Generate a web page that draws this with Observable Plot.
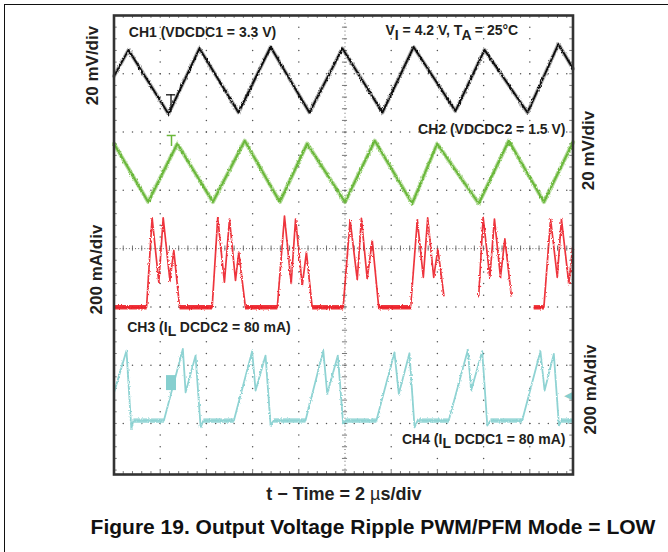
<!DOCTYPE html>
<html><head><meta charset="utf-8">
<script src="https://cdn.jsdelivr.net/npm/d3@7"></script>
<script src="https://cdn.jsdelivr.net/npm/@observablehq/plot@0.6"></script>
<style>
html,body{margin:0;padding:0;background:#fff;}
#wrap{position:relative;width:668px;height:552px;overflow:hidden;}
#edge{position:absolute;left:4px;top:4px;width:700px;height:600px;border-top:1.5px solid #111;border-left:1.5px solid #111;pointer-events:none;}
svg{display:block}
</style></head><body><div id="wrap"><div id="edge"></div></div>
<script>
// ---- Data read from the oscilloscope capture (time in µs, 2 µs/div) ----
// CH1: VDCDC1 ripple, mV (20 mV/div)
const ch1Time = [0, 0.63, 2.36, 3.70, 5.39, 6.78, 8.46, 9.89, 11.62, 12.97, 14.78, 16.04, 17.90, 19.24, 19.87];
const ch1mV   = [2, 11, -11, 11.5, -10.5, 12, -10.5, 11.5, -10.5, 12, -10, 11, -10.5, 13, 4.5];
// CH2: VDCDC2 ripple, mV (20 mV/div)
const ch2Time = [0, 1.48, 2.74, 4.28, 5.66, 7.18, 8.36, 10.00, 11.29, 12.91, 13.99, 15.79, 17.09, 18.61, 19.87];
const ch2mV   = [10, -10, 10, -10, 11, -10, 10, -10, 11, -10.5, 10, -10.5, 11, -10, 10.5];
// CH3: inductor current DCDC2, mA (200 mA/div); null = no trace
const ch3Time = [0, 1.41, 1.65, 1.94, 2.13, 2.42, 2.59, 2.84,
  4.25, 4.49, 4.78, 5.00, 5.26, 5.40, 5.69,
  7.07, 7.38, 7.67, 7.86, 8.15, 8.33, 8.58,
  9.92, 10.22, 10.53, 10.71, 10.96, 11.18, 11.46,
  12.84, 13.13, 13.39, 13.58, 13.84, 14.02, 14.28, 15.0,
  15.79, 15.98, 16.27, 16.47, 16.73, 16.92, 17.20, 17.7,
  18.17, 18.61, 18.90, 19.19, 19.37, 19.69, 19.87];
const ch3mA = [0, 0, 307, 86, 307, 92, 195, 0,
  0, 307, 86, 303, 92, 189, 0,
  0, 313, 82, 303, 75, 189, 0,
  0, 300, 95, 305, 98, 229, 0,
  0, 300, 103, 307, 103, 200, 40, null,
  40, 309, 103, 303, 103, 235, 40, null,
  0, 0, 303, 103, 303, 81, 218];
// CH4: inductor current DCDC1, mA (200 mA/div)
const ch4Time = [0, 0.54, 0.75, 0.84, 2.16, 2.98, 3.10, 3.53, 3.75, 3.87,
  5.19, 5.98, 6.13, 6.56, 6.78, 6.91, 8.29, 9.06, 9.23, 9.69, 9.92, 10.02,
  11.36, 12.14, 12.33, 12.79, 13.01, 13.14, 14.49, 15.32, 15.46, 15.94, 16.16, 16.30,
  17.67, 18.46, 18.64, 19.04, 19.26, 19.37, 19.87];
const ch4mA = [96, 240, -28, 0, 0, 246, 97, 223, -23, 0,
  0, 238, 103, 223, -17, 0, 0, 240, 92, 223, -11, 0,
  0, 234, 92, 231, -23, 0, 0, 243, 103, 238, -17, 0,
  0, 238, 103, 229, -17, 0, 0];

// scope settings: reference level (div from centre) and units per division
const chOffsetDiv = {ch1: 2.86, ch2: 1.30, ch3: -1.007, ch4: -2.951};
const chPerDiv = {ch1: 20, ch2: 20, ch3: 200, ch4: 200};

// screen: 10 x 8 divisions (cropped at right/bottom)
const tMax = 19.87, divTop = 4, divBottom = -3.876;

function rows(time, vals, ch) {
  return time.map((t, i) => ({t, y: vals[i] == null ? NaN : chOffsetDiv[ch] + vals[i] / chPerDiv[ch], v: vals[i]}));
}
function flats(r) {
  const out = [];
  for (let i = 0; i < r.length - 1; i++) if (r[i].v === 0 && r[i + 1].v === 0) out.push({t1: r[i].t, t2: r[i + 1].t, y: r[i].y});
  return out;
}
const r1 = rows(ch1Time, ch1mV, "ch1"), r2 = rows(ch2Time, ch2mV, "ch2");
const r3 = rows(ch3Time, ch3mA, "ch3"), r4 = rows(ch4Time, ch4mA, "ch4");

// graticule
const majorT = [2, 4, 6, 8, 12, 14, 16, 18];
const majorDiv = [-3, -2, -1, 1, 2, 3];
const minorT = d3.range(1, 50).map(k => k * 0.4).filter(t => t < tMax);
const minorDiv = d3.range(-19, 20).map(k => k * 0.2);
const gridPts = [];
for (const t of majorT) for (const d of minorDiv) gridPts.push({t, d});
for (const d of majorDiv) for (const t of minorT) gridPts.push({t, d});

const gCol = "#555";
const txt = "#231f20";
const font = "'Liberation Sans', Arial, Helvetica, sans-serif";
const cRed = "#ec2027", cCyan = "#8fd3d3", cGreen = "#74bd44";

const chart = Plot.plot({
  width: 668, height: 552,
  marginLeft: 113.5, marginRight: 95.5, marginTop: 15, marginBottom: 78,
  x: {domain: [0, tMax], axis: null},
  y: {domain: [divBottom, divTop], axis: null},
  style: {fontFamily: font, background: "transparent", overflow: "visible"},
  marks: [
    Plot.dot(gridPts, {x: "t", y: "d", r: 0.75, fill: gCol, stroke: null}),
    Plot.ruleY([0], {stroke: gCol, strokeWidth: 0.9, strokeDasharray: "1,2.08"}),
    Plot.ruleX([10], {stroke: gCol, strokeWidth: 0.9, strokeDasharray: "1,2.91"}),
    Plot.ruleX(minorT, {x: d => d, y1: -0.045, y2: 0.045, stroke: gCol, strokeWidth: 0.8}),
    Plot.ruleY(minorDiv, {y: d => d, x1: 10 - 0.11, x2: 10 + 0.11, stroke: gCol, strokeWidth: 0.8}),
    Plot.ruleY(minorDiv, {y: d => d, x1: 0, x2: 0.14, stroke: gCol, strokeWidth: 0.8}),
    Plot.ruleY(minorDiv, {y: d => d, x1: tMax - 0.14, x2: tMax, stroke: gCol, strokeWidth: 0.8}),
    Plot.ruleX(minorT, {x: d => d, y1: divTop - 0.05, y2: divTop, stroke: gCol, strokeWidth: 0.8}),
    Plot.ruleX(minorT, {x: d => d, y1: divBottom, y2: divBottom + 0.05, stroke: gCol, strokeWidth: 0.8}),

    // CH4 cyan
    Plot.link(flats(r4), {x1: "t1", x2: "t2", y1: "y", y2: "y", stroke: cCyan, strokeWidth: 4.5, strokeOpacity: 0.85}),
    Plot.line(r4, {x: "t", y: "y", stroke: cCyan, strokeWidth: 1.8}),
    // CH3 red
    Plot.link(flats(r3), {x1: "t1", x2: "t2", y1: "y", y2: "y", stroke: cRed, strokeWidth: 4.5, strokeOpacity: 0.9}),
    Plot.line(r3, {x: "t", y: "y", stroke: cRed, strokeWidth: 1.7, strokeOpacity: 0.9}),
    // CH2 green
    Plot.line(r2, {x: "t", y: "y", stroke: cGreen, strokeWidth: 4.2, strokeOpacity: 0.5}),
    Plot.line(r2, {x: "t", y: "y", stroke: "#6ab73a", strokeWidth: 2}),
    // CH1 black
    Plot.line(r1, {x: "t", y: "y", stroke: "#000", strokeWidth: 4, strokeOpacity: 0.3}),
    Plot.line(r1, {x: "t", y: "y", stroke: "#111", strokeWidth: 1.9}),

    // channel markers
    Plot.ruleY([2.639], {x1: 2.273, x2: 2.662, stroke: "#111", strokeWidth: 1.3}),
    Plot.ruleX([2.468], {y1: 2.34, y2: 2.639, stroke: "#111", strokeWidth: 1.3}),
    Plot.ruleY([1.941], {x1: 2.303, x2: 2.693, stroke: "#6ab73a", strokeWidth: 1.5}),
    Plot.ruleX([2.489], {y1: 1.752, y2: 1.941, stroke: "#6ab73a", strokeWidth: 1.5}),
    Plot.rect([0], {x1: 2.273, x2: 2.706, y1: -2.436, y2: -2.179, fill: "#86cfcf"}),
    Plot.text(["◀"], {x: 19.66, y: -2.524, fill: "#86cfcf", fontSize: 11}),

    Plot.frame({stroke: "#333", strokeWidth: 2.6}),

    // in-screen labels
    Plot.text(["CH1 (VDCDC1 = 3.3 V)"], {x: 0.641, y: 3.627, text: d => d, textAnchor: "start", lineAnchor: "bottom", fontSize: 14, fontWeight: "bold", fill: txt}),
    Plot.text(["V_{I} = 4.2 V, T_{A} = 25°C"], {x: 11.753, y: 3.657, text: d => d, textAnchor: "start", lineAnchor: "bottom", fontSize: 14, fontWeight: "bold", fill: txt}),
    Plot.text(["CH2 (VDCDC2 = 1.5 V)"], {x: 19.545, y: 1.970, text: d => d, textAnchor: "end", lineAnchor: "bottom", fontSize: 14, fontWeight: "bold", fill: txt}),
    Plot.text(["CH3 (I_{L} DCDC2 = 80 mA)"], {x: 0.571, y: -1.434, text: d => d, textAnchor: "start", lineAnchor: "bottom", fontSize: 14, fontWeight: "bold", fill: txt}),
    Plot.text(["CH4 (I_{L} DCDC1 = 80 mA)"], {x: 19.545, y: -3.349, text: d => d, textAnchor: "end", lineAnchor: "bottom", fontSize: 14, fontWeight: "bold", fill: txt}),

    // axis labels
    Plot.text(["20 mV/div"], {x: -0.95, y: 3.142, text: d => d, rotate: -90, fontSize: 17, fontWeight: "bold", fill: txt}),
    Plot.text(["200 mA/div"], {x: -0.75, y: -0.359, text: d => d, rotate: -90, fontSize: 17, fontWeight: "bold", fill: txt}),
    Plot.text(["20 mV/div"], {x: 20.537, y: 1.683, text: d => d, rotate: -90, fontSize: 17, fontWeight: "bold", fill: txt}),
    Plot.text(["200 mA/div"], {x: 20.61, y: -2.418, text: d => d, rotate: -90, fontSize: 17, fontWeight: "bold", fill: txt}),
    Plot.text(["t − Time = 2 µs/div"], {x: 9.952, y: -4.322, text: d => d, lineAnchor: "bottom", fontSize: 18, fontWeight: "bold", fill: txt}),
    Plot.text(["Figure 19. Output Voltage Ripple PWM/PFM Mode = LOW"], {x: 11.212, y: -4.894, text: d => d, lineAnchor: "bottom", fontSize: 21, fontWeight: "bold", fill: "#111"})
  ]
});

// subscripts and the Symbol-style µ as real tspans
const NS = "http://www.w3.org/2000/svg";
d3.select(chart).selectAll("text").each(function () {
  const s = this.textContent;
  if (!/_\{|µ/.test(s)) return;
  while (this.firstChild) this.removeChild(this.firstChild);
  const parts = s.split(/(_\{[^}]*\}|µ)/).filter(p => p);
  let down = false;
  for (const p of parts) {
    const ts = document.createElementNS(NS, "tspan");
    if (p.startsWith("_{")) {
      ts.textContent = p.slice(2, -1);
      ts.setAttribute("dy", "0.3em");
      down = true;
    } else {
      ts.textContent = p;
      if (down) { ts.setAttribute("dy", "-0.3em"); down = false; }
      if (p === "µ") ts.setAttribute("font-weight", "normal");
    }
    this.appendChild(ts);
  }
});

// scope-trace fuzz: a purely visual displacement filter on the trace marks
const svgSel = d3.select(chart);
const defs = svgSel.insert("defs", ":first-child");
const f = defs.append("filter").attr("id", "scopeFuzz")
  .attr("filterUnits", "userSpaceOnUse").attr("x", 0).attr("y", 0).attr("width", 668).attr("height", 552);
f.append("feTurbulence").attr("type", "fractalNoise").attr("baseFrequency", "0.9 0.5").attr("numOctaves", 1).attr("seed", 7).attr("result", "n");
f.append("feDisplacementMap").attr("in", "SourceGraphic").attr("in2", "n").attr("scale", 3.2)
  .attr("xChannelSelector", "R").attr("yChannelSelector", "G");
svgSel.selectAll("g[aria-label='line'], g[aria-label='link']").attr("filter", "url(#scopeFuzz)");

document.getElementById("wrap").prepend(chart);
</script></body></html>
